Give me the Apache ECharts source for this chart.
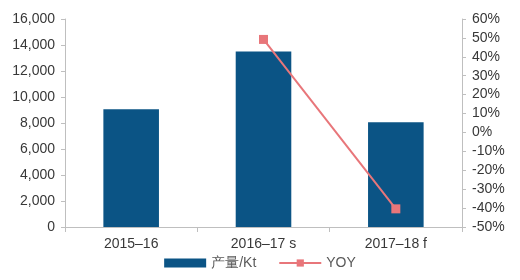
<!DOCTYPE html>
<html><head><meta charset="utf-8">
<script src="https://cdn.jsdelivr.net/npm/echarts@6/dist/echarts.min.js"></script>
<style>html,body{margin:0;padding:0;background:#fff}#c{width:520px;height:280px}</style>
</head><body><div id="c"></div>
<script>
const categories = ['2015\u201316', '2016\u201317 s', '2017\u201318 f'];
const output = [9050, 13500, 8050];
const yoy = [null, 49.2, -40.4];
const chart = echarts.init(document.getElementById('c'));
const axisText = {color:'#383838', fontFamily:'Liberation Sans, Arial', fontSize:14};
chart.setOption({
  animation:false,
  grid:{left:65, right:58, top:19, bottom:53},
  legend:{bottom:5, left:'center', itemWidth:42, itemHeight:9, itemGap:22,
    textStyle:{...axisText, color:'#595959', fontSize:14},
    data:[{name:'产量/Kt', icon:'rect'}, {name:'YOY'}]},
  xAxis:{type:'category', data:categories,
    axisLine:{lineStyle:{color:'#BFBFBF'}},
    axisTick:{show:true, lineStyle:{color:'#BFBFBF'}, length:5},
    axisLabel:{...axisText, margin:10}},
  yAxis:[{type:'value', min:0, max:16000, interval:2000,
    axisLine:{show:true, lineStyle:{color:'#BFBFBF'}},
    axisTick:{show:true, lineStyle:{color:'#BFBFBF'}, length:4},
    splitLine:{show:false},
    axisLabel:{...axisText, margin:10, formatter:v=>v.toLocaleString('en-US')}},
   {type:'value', min:-50, max:60, interval:10, position:'right',
    axisLine:{show:true, lineStyle:{color:'#BFBFBF'}},
    axisTick:{show:true, lineStyle:{color:'#BFBFBF'}, length:4},
    splitLine:{show:false},
    axisLabel:{...axisText, margin:10, formatter:v=>v+'%'}}],
  series:[
    {name:'产量/Kt', type:'bar', data:output, barWidth:'42%', itemStyle:{color:'#0B5485'}},
    {name:'YOY', type:'line', yAxisIndex:1, data:yoy, symbol:'rect', symbolSize:9,
     lineStyle:{color:'#E8767A', width:2}, itemStyle:{color:'#E8767A'}}
  ]
});
</script></body></html>
